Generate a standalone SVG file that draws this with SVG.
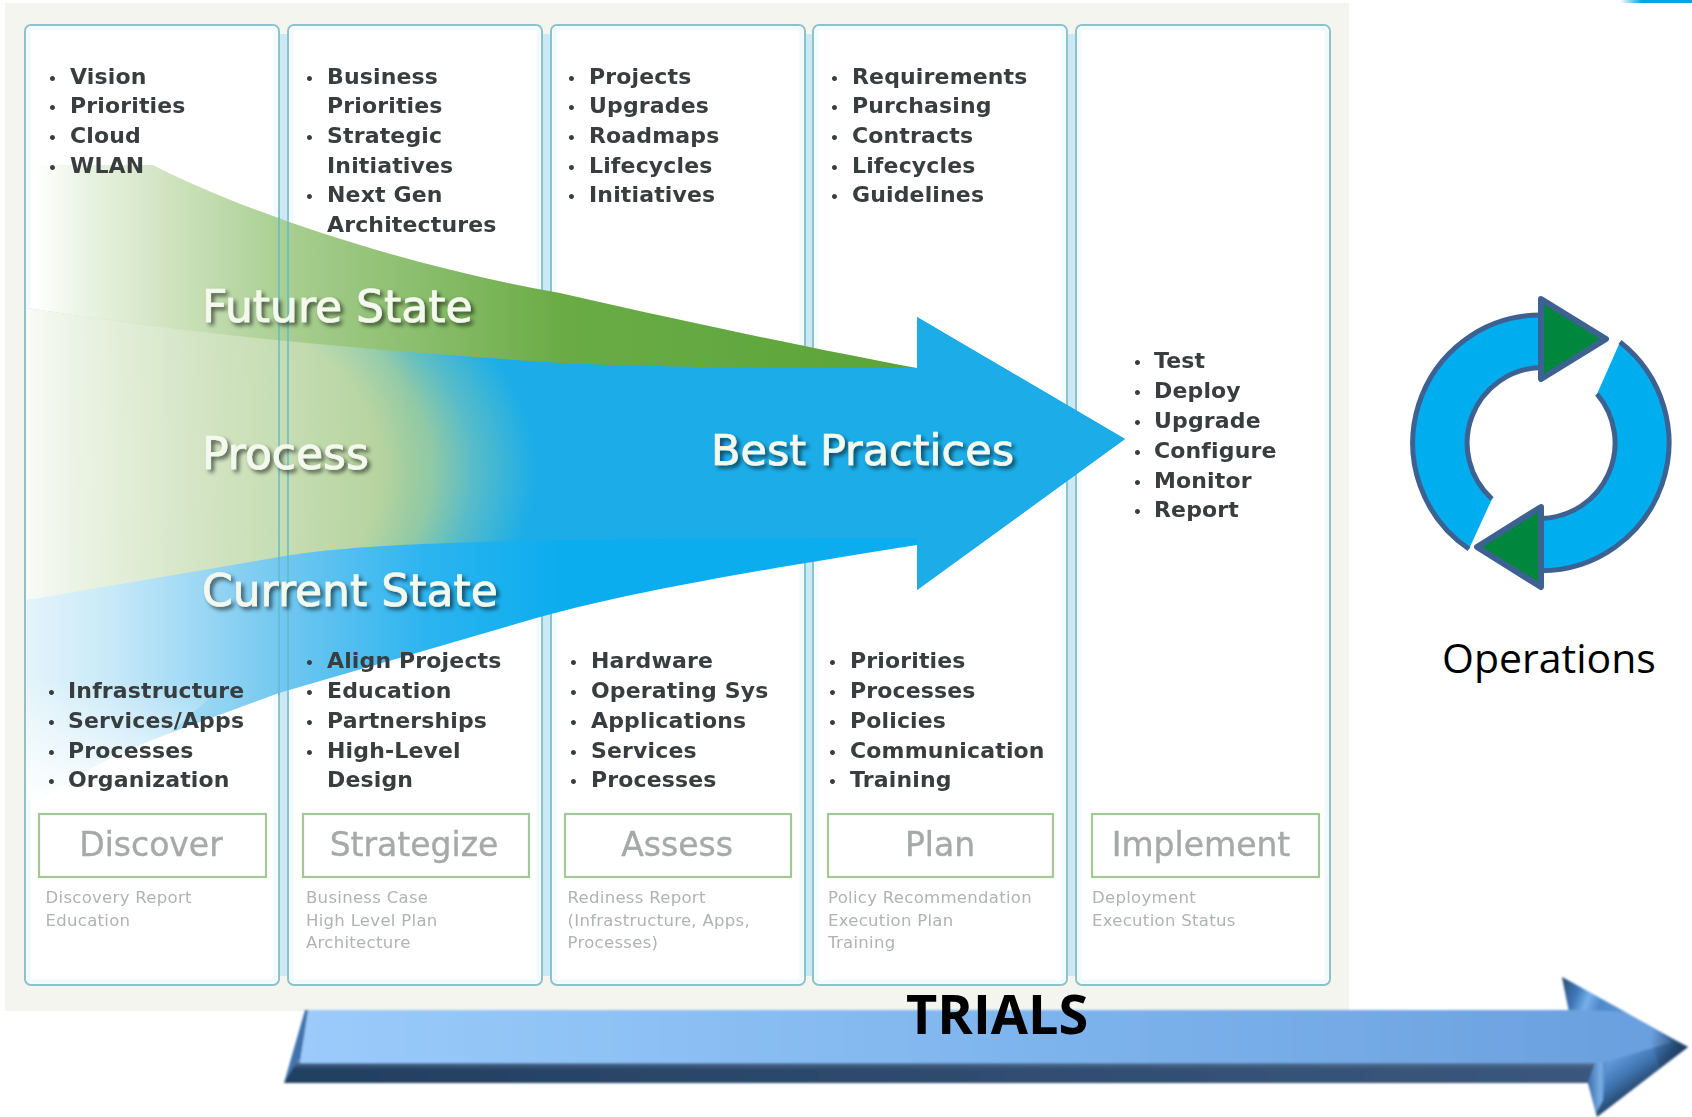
<svg xmlns="http://www.w3.org/2000/svg" width="1692" height="1117" viewBox="0 0 1692 1117">
<style>
.col{fill:#fff;stroke:#8dc2cc;stroke-width:2}
.glow{fill:none;stroke:#f1fbfd;stroke-width:4}
.gap{fill:#cbe9f4}
.li{font:bold 22px "DejaVu Sans",sans-serif;letter-spacing:.15px;fill:#393d3f;filter:url(#soft)}
.b{font-size:14px}
.box{fill:#fff;stroke:#a4c795;stroke-width:2.200}
.stage{font:33px "DejaVu Sans",sans-serif;fill:#a6a9a9;stroke:#a6a9a9;stroke-width:.4;text-anchor:middle;filter:url(#soft)}
.sub{font:16.500px "DejaVu Sans",sans-serif;letter-spacing:.3px;fill:#b0b3b3;filter:url(#soft)}
.big{font:44px "DejaVu Sans",sans-serif;fill:#f4f9ee;stroke:#f4f9ee;stroke-width:.7;filter:url(#shadow)}
.ring{fill:#00aeef}
.rs{fill:none;stroke:#3d6291;stroke-width:5}
.tri{fill:#00873e;stroke:#3d6291;stroke-width:6;stroke-linejoin:round}
</style>
<defs>
<filter id="soft" x="-5%" y="-20%" width="110%" height="140%"><feGaussianBlur stdDeviation="0.55"/></filter>
<filter id="arrowSoft" x="-2%" y="-5%" width="104%" height="110%"><feGaussianBlur stdDeviation="0.8"/></filter>
<filter id="shadow" x="-10%" y="-30%" width="120%" height="170%">
<feGaussianBlur in="SourceAlpha" stdDeviation="2.200" result="s"/>
<feOffset in="s" dx="3" dy="3" result="o"/>
<feComponentTransfer in="o" result="d"><feFuncA type="linear" slope="0.6"/></feComponentTransfer>
<feGaussianBlur in="SourceGraphic" stdDeviation="0.5" result="t"/>
<feMerge><feMergeNode in="d"/><feMergeNode in="t"/></feMerge>
</filter>
<path id="procShape" d="M27 308 C200 335 380 350 560 362 C680 367 800 368 917 368 V317 L1125 439 L917 590 V545 C700 556 300 575 27 600 Z"/>
<radialGradient id="gProc" gradientUnits="userSpaceOnUse" cx="0" cy="0" r="1" gradientTransform="translate(25 470) scale(510 290)">
<stop offset="0" stop-color="#b7d39b"/><stop offset="0.7" stop-color="#b2d199"/><stop offset="0.8" stop-color="#8fc9a6"/><stop offset="0.88" stop-color="#58bcc8"/><stop offset="1" stop-color="#1cade8"/>
</radialGradient>
<linearGradient id="gProcFade" gradientUnits="userSpaceOnUse" x1="27" y1="0" x2="410" y2="0">
<stop offset="0" stop-color="#fff" stop-opacity="0.92"/><stop offset="0.12" stop-color="#fff" stop-opacity="0.75"/><stop offset="0.45" stop-color="#fff" stop-opacity="0.42"/><stop offset="1" stop-color="#fff" stop-opacity="0"/>
</linearGradient>
<linearGradient id="gGreen" gradientUnits="userSpaceOnUse" x1="36" y1="0" x2="917" y2="0">
<stop offset="0" stop-color="#d6e8c8" stop-opacity="0"/><stop offset="0.06" stop-color="#d6e8c8" stop-opacity="0.55"/><stop offset="0.15" stop-color="#d0e3c0"/><stop offset="0.28" stop-color="#a9cf92"/><stop offset="0.6" stop-color="#6aab45"/><stop offset="1" stop-color="#5aa53a"/>
</linearGradient>
<linearGradient id="gCur" gradientUnits="userSpaceOnUse" x1="27" y1="0" x2="560" y2="0">
<stop offset="0" stop-color="#e4f4fb"/><stop offset="0.16" stop-color="#c8e9f8"/><stop offset="0.47" stop-color="#74c8f0"/><stop offset="0.75" stop-color="#2cb4f0"/><stop offset="1" stop-color="#0cadee"/>
</linearGradient>
<linearGradient id="gCurFade" gradientUnits="userSpaceOnUse" x1="0" y1="680" x2="0" y2="800">
<stop offset="0" stop-color="#fff" stop-opacity="0"/><stop offset="1" stop-color="#fff" stop-opacity="0.95"/>
</linearGradient>
<linearGradient id="gFace" x1="0" x2="1" y1="0" y2="0">
<stop offset="0" stop-color="#9bcbfb"/><stop offset="0.5" stop-color="#80b6ee"/><stop offset="1" stop-color="#6a9fde"/>
</linearGradient>
<linearGradient id="gBand" x1="0" x2="1" y1="0" y2="0">
<stop offset="0" stop-color="#233f60"/><stop offset="1" stop-color="#3b587c"/>
</linearGradient>
<linearGradient id="gBandV" x1="0" x2="0" y1="0" y2="1">
<stop offset="0" stop-color="#7fa6d2" stop-opacity="0.9"/><stop offset="0.45" stop-color="#3b587c" stop-opacity="0"/>
</linearGradient>
<linearGradient id="gHeadLow" gradientUnits="userSpaceOnUse" x1="1625" y1="1052" x2="1650" y2="1088">
<stop offset="0" stop-color="#6098d8"/><stop offset="0.45" stop-color="#3f74b0"/><stop offset="1" stop-color="#1c3655"/>
</linearGradient>
<linearGradient id="gHeadTop" gradientUnits="userSpaceOnUse" x1="1562" y1="985" x2="1640" y2="1015">
<stop offset="0" stop-color="#2f5379"/><stop offset="0.2" stop-color="#3f79ba"/><stop offset="0.35" stop-color="#77b0ea"/><stop offset="0.5" stop-color="#4f8aca"/><stop offset="1" stop-color="#5f97d8"/>
</linearGradient>
<linearGradient id="gTip" gradientUnits="userSpaceOnUse" x1="1650" y1="1040" x2="1688" y2="1047">
<stop offset="0" stop-color="#1d3a5c" stop-opacity="0"/><stop offset="1" stop-color="#1d3a5c"/>
</linearGradient>
<linearGradient id="gBevel" x1="0" x2="1" y1="0" y2="0">
<stop offset="0" stop-color="#3a6da8"/><stop offset="0.7" stop-color="#78aee6"/><stop offset="1" stop-color="#4d85c4"/>
</linearGradient>
<linearGradient id="gCorner" x1="0" x2="1" y1="0" y2="0">
<stop offset="0" stop-color="#00a8e0" stop-opacity="0"/><stop offset="0.3" stop-color="#00a8e0"/><stop offset="1" stop-color="#00a8e0"/>
</linearGradient>
</defs>

<rect width="1692" height="1117" fill="#fff"/>
<rect x="1620" y="0" width="72" height="3" fill="url(#gCorner)"/>
<rect id="panel" x="5" y="3" width="1344" height="1008" fill="#f4f5ef"/>

<g id="columns">
<rect class="gap" x="279" y="34" width="9" height="942"/>
<rect class="gap" x="542" y="34" width="9" height="942"/>
<rect class="gap" x="805" y="34" width="8" height="942"/>
<rect class="gap" x="1067" y="34" width="9" height="942"/>
<rect class="col" x="25" y="25" width="254" height="960" rx="6"/>
<rect class="col" x="288" y="25" width="254" height="960" rx="6"/>
<rect class="col" x="551" y="25" width="254" height="960" rx="6"/>
<rect class="col" x="813" y="25" width="254" height="960" rx="6"/>
<rect class="col" x="1076" y="25" width="254" height="960" rx="6"/>
<rect class="glow" x="28.500" y="28.500" width="247" height="953" rx="4"/>
<rect class="glow" x="291.500" y="28.500" width="247" height="953" rx="4"/>
<rect class="glow" x="554.500" y="28.500" width="247" height="953" rx="4"/>
<rect class="glow" x="816.500" y="28.500" width="247" height="953" rx="4"/>
<rect class="glow" x="1079.500" y="28.500" width="247" height="953" rx="4"/>
</g>

<g id="flow">
<use id="process-arrow" href="#procShape" fill="url(#gProc)"/>
<use href="#procShape" fill="url(#gProcFade)"/>
<path id="future-band" fill="url(#gGreen)" d="M36 165 L153 165 C240 210 400 265 560 293 C700 325 820 350 917 368 C800 369 680 368 560 363 C380 351 200 336 36 309 Z"/>
<path id="current-band" fill="url(#gCur)" d="M27 600 L279 557 C350 545 450 538 917 538 V545 C760 570 640 590 540 617 L279 693 L170 733 C130 748 80 770 40 800 L27 800 Z"/>
<path d="M27 680 H230 L170 733 C130 748 80 770 40 800 L27 800 Z" fill="url(#gCurFade)"/>
<path d="M917 317 L1125 439 L917 590 V538 H640 V368 H917 Z" fill="#1cade8"/>
<path d="M279 217 V695 M288 222 V690" fill="none" stroke="#5fb9c6" stroke-opacity="0.7" stroke-width="2"/>
</g>

<g id="list-discover-top" class="li">
<text y="83.500"><tspan class="b" x="48">•</tspan><tspan x="70">Vision</tspan></text>
<text y="113"><tspan class="b" x="48">•</tspan><tspan x="70">Priorities</tspan></text>
<text y="143"><tspan class="b" x="48">•</tspan><tspan x="70">Cloud</tspan></text>
<text y="172.600"><tspan class="b" x="48">•</tspan><tspan x="70">WLAN</tspan></text>
</g>
<g id="list-strategize-top" class="li">
<text y="83.500"><tspan class="b" x="305">•</tspan><tspan x="327">Business</tspan></text>
<text y="113"><tspan x="327">Priorities</tspan></text>
<text y="143"><tspan class="b" x="305">•</tspan><tspan x="327">Strategic</tspan></text>
<text y="172.600"><tspan x="327">Initiatives</tspan></text>
<text y="202"><tspan class="b" x="305">•</tspan><tspan x="327">Next Gen</tspan></text>
<text y="232"><tspan x="327">Architectures</tspan></text>
</g>
<g id="list-assess-top" class="li">
<text y="83.500"><tspan class="b" x="567">•</tspan><tspan x="589">Projects</tspan></text>
<text y="113"><tspan class="b" x="567">•</tspan><tspan x="589">Upgrades</tspan></text>
<text y="143"><tspan class="b" x="567">•</tspan><tspan x="589">Roadmaps</tspan></text>
<text y="172.600"><tspan class="b" x="567">•</tspan><tspan x="589">Lifecycles</tspan></text>
<text y="202"><tspan class="b" x="567">•</tspan><tspan x="589">Initiatives</tspan></text>
</g>
<g id="list-plan-top" class="li">
<text y="83.500"><tspan class="b" x="830">•</tspan><tspan x="852">Requirements</tspan></text>
<text y="113"><tspan class="b" x="830">•</tspan><tspan x="852">Purchasing</tspan></text>
<text y="143"><tspan class="b" x="830">•</tspan><tspan x="852">Contracts</tspan></text>
<text y="172.600"><tspan class="b" x="830">•</tspan><tspan x="852">Lifecycles</tspan></text>
<text y="202"><tspan class="b" x="830">•</tspan><tspan x="852">Guidelines</tspan></text>
</g>
<g id="list-implement" class="li">
<text y="368"><tspan class="b" x="1133">•</tspan><tspan x="1154">Test</tspan></text>
<text y="398"><tspan class="b" x="1133">•</tspan><tspan x="1154">Deploy</tspan></text>
<text y="428"><tspan class="b" x="1133">•</tspan><tspan x="1154">Upgrade</tspan></text>
<text y="458"><tspan class="b" x="1133">•</tspan><tspan x="1154">Configure</tspan></text>
<text y="488"><tspan class="b" x="1133">•</tspan><tspan x="1154">Monitor</tspan></text>
<text y="517"><tspan class="b" x="1133">•</tspan><tspan x="1154">Report</tspan></text>
</g>
<g id="list-discover-bottom" class="li">
<text y="698"><tspan class="b" x="47">•</tspan><tspan x="68">Infrastructure</tspan></text>
<text y="728"><tspan class="b" x="47">•</tspan><tspan x="68">Services/Apps</tspan></text>
<text y="757.500"><tspan class="b" x="47">•</tspan><tspan x="68">Processes</tspan></text>
<text y="787"><tspan class="b" x="47">•</tspan><tspan x="68">Organization</tspan></text>
</g>
<g id="list-strategize-bottom" class="li">
<text y="668"><tspan class="b" x="305">•</tspan><tspan x="327">Align Projects</tspan></text>
<text y="698"><tspan class="b" x="305">•</tspan><tspan x="327">Education</tspan></text>
<text y="728"><tspan class="b" x="305">•</tspan><tspan x="327">Partnerships</tspan></text>
<text y="757.500"><tspan class="b" x="305">•</tspan><tspan x="327">High-Level</tspan></text>
<text y="787"><tspan x="327">Design</tspan></text>
</g>
<g id="list-assess-bottom" class="li">
<text y="668"><tspan class="b" x="569">•</tspan><tspan x="591">Hardware</tspan></text>
<text y="698"><tspan class="b" x="569">•</tspan><tspan x="591">Operating Sys</tspan></text>
<text y="728"><tspan class="b" x="569">•</tspan><tspan x="591">Applications</tspan></text>
<text y="757.500"><tspan class="b" x="569">•</tspan><tspan x="591">Services</tspan></text>
<text y="787"><tspan class="b" x="569">•</tspan><tspan x="591">Processes</tspan></text>
</g>
<g id="list-plan-bottom" class="li">
<text y="668"><tspan class="b" x="828">•</tspan><tspan x="850">Priorities</tspan></text>
<text y="698"><tspan class="b" x="828">•</tspan><tspan x="850">Processes</tspan></text>
<text y="728"><tspan class="b" x="828">•</tspan><tspan x="850">Policies</tspan></text>
<text y="757.500"><tspan class="b" x="828">•</tspan><tspan x="850">Communication</tspan></text>
<text y="787"><tspan class="b" x="828">•</tspan><tspan x="850">Training</tspan></text>
</g>

<g id="flow-labels">
<text class="big" x="202" y="322">Future State</text>
<text class="big" x="202" y="469">Process</text>
<text class="big" x="202" y="606">Current State</text>
<text class="big" x="711" y="465" style="font-size:43px">Best Practices</text>
</g>

<g id="discover"><rect class="box" x="39" y="814" width="227" height="63"/><text class="stage" x="151" y="856">Discover</text>
<text class="sub" x="45.500" y="903">Discovery Report</text><text class="sub" x="45.500" y="926">Education</text></g>
<g id="strategize"><rect class="box" x="303" y="814" width="226" height="63"/><text class="stage" x="414" y="856">Strategize</text>
<text class="sub" x="306" y="903">Business Case</text><text class="sub" x="306" y="926">High Level Plan</text><text class="sub" x="306" y="948">Architecture</text></g>
<g id="assess"><rect class="box" x="565" y="814" width="226" height="63"/><text class="stage" x="677" y="856">Assess</text>
<text class="sub" x="567.500" y="903">Rediness Report</text><text class="sub" x="567.500" y="926">(Infrastructure, Apps,</text><text class="sub" x="567.500" y="948">Processes)</text></g>
<g id="plan"><rect class="box" x="828" y="814" width="225" height="63"/><text class="stage" x="940" y="856">Plan</text>
<text class="sub" x="828" y="903">Policy Recommendation</text><text class="sub" x="828" y="926">Execution Plan</text><text class="sub" x="828" y="948">Training</text></g>
<g id="implement"><rect class="box" x="1092" y="814" width="227" height="63"/><text class="stage" x="1201" y="856">Implement</text>
<text class="sub" x="1092" y="903">Deployment</text><text class="sub" x="1092" y="926">Execution Status</text></g>

<g id="operations">
<path class="ring" d="M1469 549 A128 128 0 0 1 1541 315 V367.500 A75.500 75.500 0 0 0 1492 499 Z"/>
<path class="rs" d="M1469 549 A128 128 0 0 1 1541 315 M1541 367.500 A75.500 75.500 0 0 0 1492 499"/>
<path class="ring" d="M1620 342 A128 128 0 0 1 1541 570.700 V518.500 A75.500 75.500 0 0 0 1597 394 Z"/>
<path class="rs" d="M1620 342 A128 128 0 0 1 1541 570.700 M1541 518.500 A75.500 75.500 0 0 0 1597 394"/>
<polygon class="tri" points="1541,299 1606,339 1541,379"/>
<polygon class="tri" points="1541,507 1477,547 1541,587"/>
<text x="1549" y="673" text-anchor="middle" font-family="'Open Sans',sans-serif" font-size="41" fill="#000">Operations</text>
</g>

<g id="trials">
<g filter="url(#arrowSoft)">
<polygon points="1562,977 1688,1047 1597,1117 1588,1083 1569,1010" fill="url(#gHeadLow)"/>
<polygon points="1562,977 1625,1012 1569,1012" fill="url(#gHeadTop)"/>
<polygon points="305,1010 309,1010 300,1063 284,1083" fill="#3f73ad"/>
<polygon points="284,1083 298,1060 1596,1060 1588,1083" fill="url(#gBand)"/>
<polygon points="284,1083 298,1060 1596,1060 1588,1083" fill="url(#gBandV)"/>
<polygon points="300,1063 308,1010 1590,1010 1625,1012 1672,1042 1602,1063" fill="url(#gFace)"/>
<polygon points="1596,1063 1606,1062 1603,1100 1596,1113 1588,1083" fill="url(#gBevel)"/>
<polygon points="1645,1025 1688,1047 1660,1068" fill="url(#gTip)"/>
</g>
<text x="906" y="1034" font-family="'Open Sans',sans-serif" font-weight="700" font-size="54" fill="#000">TRIALS</text>
</g>
</svg>
